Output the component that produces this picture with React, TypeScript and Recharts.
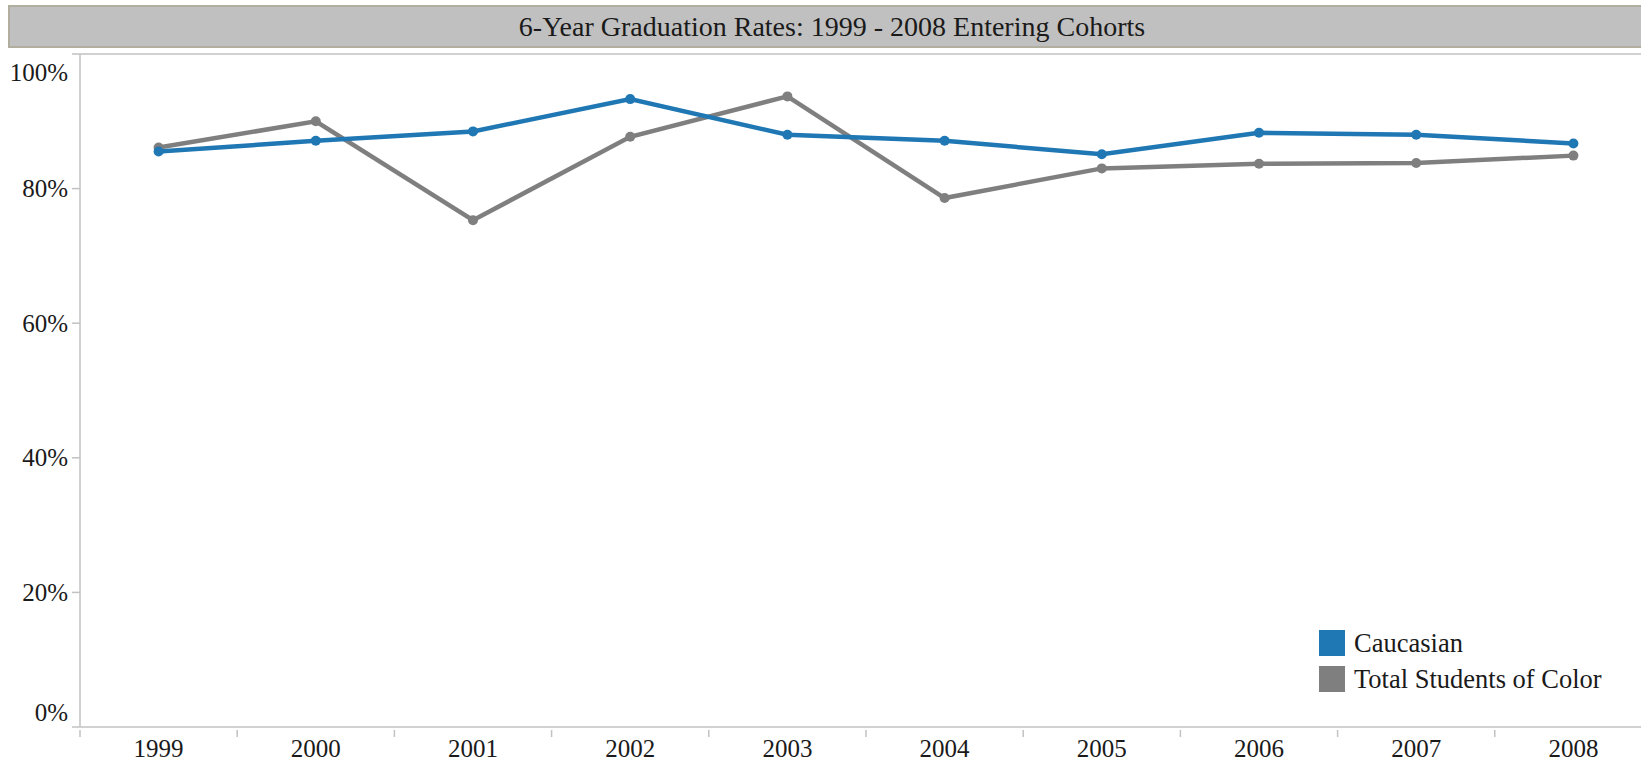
import React from 'react';
import { LineChart, Line, XAxis, YAxis, ReferenceLine, Legend } from 'recharts';

const years = ['1999', '2000', '2001', '2002', '2003', '2004', '2005', '2006', '2007', '2008'];
const caucasian = [0.855, 0.871, 0.885, 0.933, 0.880, 0.871, 0.851, 0.883, 0.880, 0.867];
const studentsOfColor = [0.861, 0.900, 0.753, 0.877, 0.937, 0.786, 0.830, 0.837, 0.838, 0.849];
const yTicks = [0, 0.2, 0.4, 0.6, 0.8, 1];
const seriesNames = ['Caucasian', 'Total Students of Color'];
const seriesColors = ['#1f77b4', '#7f7f7f'];
const titleText = '6-Year Graduation Rates: 1999 - 2008 Entering Cohorts';

const data = years.map((y, i) => ({ year: y, caucasian: caucasian[i], soc: studentsOfColor[i] }));

const FONT = '"Liberation Serif", "DejaVu Serif", serif';
const AXIS = '#c2c2c2';
const TEXT = '#1a1a1a';
const PLOT_LEFT = 80;
const CHART_W = 1652;
const CHART_H = 765;
const BAND = (CHART_W - PLOT_LEFT) / years.length;

const XTick = (props: any) => {
  const { x, y, payload } = props;
  const bx = x - BAND / 2;
  return (
    <g>
      <line x1={bx} x2={bx} y1={y + 3} y2={y + 10} stroke={AXIS} strokeWidth={1.5} />
      <text x={x} y={y + 30} textAnchor="middle" fontSize={25} fill={TEXT} fontFamily={FONT}>
        {payload.value}
      </text>
    </g>
  );
};

const YTick = (props: any) => {
  const { x, y, payload } = props;
  const v = payload.value;
  const shift = v >= 1 ? 18 : v <= 0 ? -15 : 0;
  return (
    <text x={x} y={y + shift + 8.5} textAnchor="end" fontSize={25} fill={TEXT} fontFamily={FONT}>
      {Math.round(v * 100)}%
    </text>
  );
};

const LegendContent = () => (
  <div style={{ fontFamily: FONT }}>
    {seriesNames.map((n, i) => (
      <div key={n} style={{ display: 'flex', alignItems: 'center', height: 36 }}>
        <div style={{ width: 26, height: 26, background: seriesColors[i], marginRight: 9 }} />
        <span style={{ fontSize: 26.5, color: TEXT, whiteSpace: 'nowrap' }}>{n}</span>
      </div>
    ))}
  </div>
);

export default function App() {
  return (
    <div
      style={{
        position: 'absolute',
        left: 0,
        top: 0,
        width: 1641,
        height: 765,
        overflow: 'hidden',
        background: '#ffffff',
        fontFamily: FONT,
      }}
    >
      <div
        style={{
          position: 'absolute',
          left: 8,
          top: 5,
          width: 1648,
          height: 43,
          boxSizing: 'border-box',
          border: '2px solid #b1ae9f',
          background: '#c0c0c0',
          display: 'flex',
          alignItems: 'center',
          justifyContent: 'center',
          fontSize: 28,
          color: TEXT,
          whiteSpace: 'nowrap',
        }}
      >
        {titleText}
      </div>
      <div style={{ position: 'absolute', left: 0, top: 0 }}>
        <LineChart
          width={CHART_W}
          height={CHART_H}
          data={data}
          margin={{ top: 54, right: 0, bottom: 0, left: 0 }}
        >
          <XAxis
            dataKey="year"
            height={38}
            padding={{ left: BAND / 2, right: BAND / 2 }}
            tickLine={false}
            tickSize={0}
            tickMargin={0}
            axisLine={{ stroke: AXIS, strokeWidth: 1.5 }}
            tick={<XTick />}
            interval={0}
          />
          <YAxis
            width={PLOT_LEFT}
            domain={[0, 1]}
            ticks={yTicks}
            tickSize={8}
            tickMargin={4}
            tickLine={{ stroke: AXIS, strokeWidth: 1.5 }}
            axisLine={{ stroke: AXIS, strokeWidth: 1.5 }}
            tick={<YTick />}
            interval={0}
          />
          <ReferenceLine y={1} stroke={AXIS} strokeWidth={1.5} />
          <Line
            type="linear"
            dataKey="soc"
            name={seriesNames[1]}
            stroke={seriesColors[1]}
            strokeWidth={4.5}
            dot={{ r: 5, fill: seriesColors[1], stroke: seriesColors[1], strokeWidth: 0 }}
            activeDot={false}
            isAnimationActive={false}
          />
          <Line
            type="linear"
            dataKey="caucasian"
            name={seriesNames[0]}
            stroke={seriesColors[0]}
            strokeWidth={4.5}
            dot={{ r: 5, fill: seriesColors[0], stroke: seriesColors[0], strokeWidth: 0 }}
            activeDot={false}
            isAnimationActive={false}
          />
          <Legend
            layout="vertical"
            align="center"
            verticalAlign="middle"
            content={<LegendContent />}
            wrapperStyle={{ position: 'absolute', left: 1319, top: 625, width: 320 }}
          />
        </LineChart>
      </div>
    </div>
  );
}
